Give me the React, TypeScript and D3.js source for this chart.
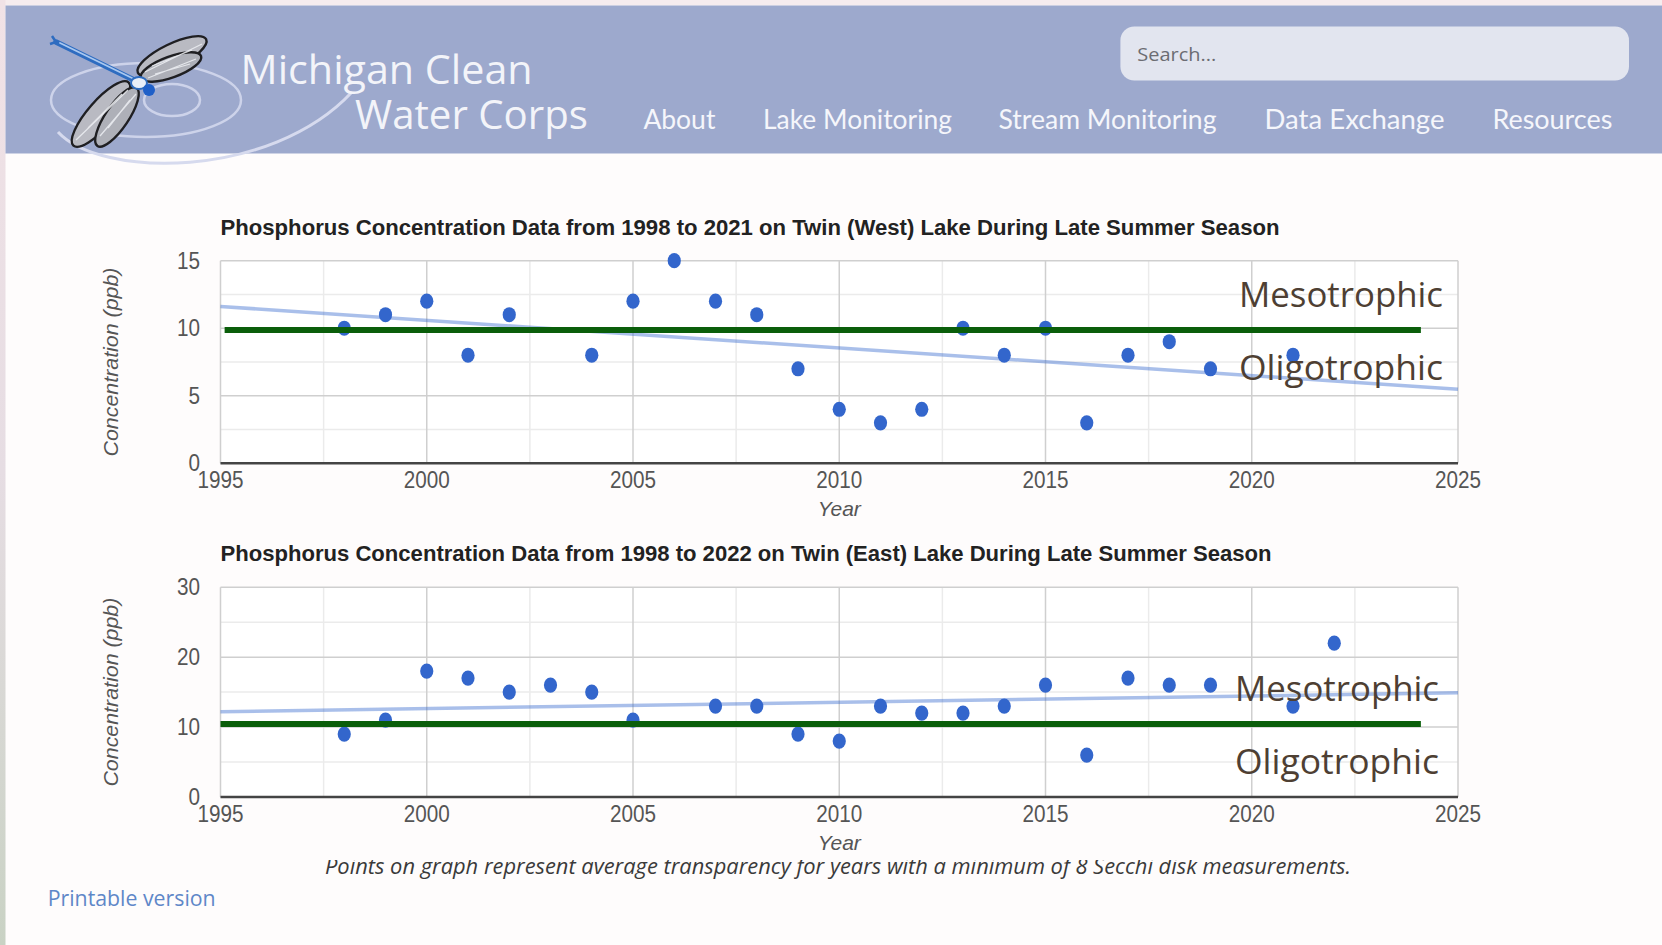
import React from 'react';
import * as d3 from 'd3';

// ---------- data ----------
const xDomain: [number, number] = [1995, 2025];
const xTickYears = [1995, 2000, 2005, 2010, 2015, 2020, 2025];

const westTitle = 'Phosphorus Concentration Data from 1998 to 2021 on Twin (West) Lake During Late Summer Season';
const westYears = [1998, 1999, 2000, 2001, 2002, 2004, 2005, 2006, 2007, 2008, 2009, 2010, 2011, 2012, 2013, 2014, 2015, 2016, 2017, 2018, 2019, 2021];
const westValues = [10, 11, 12, 8, 11, 8, 12, 15, 12, 11, 7, 4, 3, 4, 10, 8, 10, 3, 8, 9, 7, 8];
const westYTicks = [0, 5, 10, 15];
const westThreshold = 9.87;
const westThresholdSpan: [number, number] = [1995.1, 2024.1];

const eastTitle = 'Phosphorus Concentration Data from 1998 to 2022 on Twin (East) Lake During Late Summer Season';
const eastYears = [1998, 1999, 2000, 2001, 2002, 2003, 2004, 2005, 2007, 2008, 2009, 2010, 2011, 2012, 2013, 2014, 2015, 2016, 2017, 2018, 2019, 2021, 2022];
const eastValues = [9, 11, 18, 17, 15, 16, 15, 11, 13, 13, 9, 8, 13, 12, 12, 13, 16, 6, 17, 16, 16, 13, 22];
const eastYTicks = [0, 10, 20, 30];
const eastThreshold = 10.44;
const eastThresholdSpan: [number, number] = [1995.0, 2024.1];

const trophicLabels = ['Mesotrophic', 'Oligotrophic'];
const navItems = ['About', 'Lake Monitoring', 'Stream Monitoring', 'Data Exchange', 'Resources'];
const footnote = 'Points on graph represent average transparency for years with a minimum of 8 Secchi disk measurements.';

// ---------- layout ----------
const W = 1662;
const H = 945;
const PLOT_L = 220.5;
const PLOT_R = 1458;
const navX = [643.4, 763, 998.5, 1264.5, 1492.4];
const navW = [72, 189, 218, 180, 120];

function regression(xs: number[], ys: number[]) {
  const mx = d3.mean(xs) as number;
  const my = d3.mean(ys) as number;
  let sxy = 0, sxx = 0;
  xs.forEach((x, i) => { sxy += (x - mx) * (ys[i] - my); sxx += (x - mx) * (x - mx); });
  const slope = sxy / sxx;
  return (x: number) => my + slope * (x - mx);
}

type ChartProps = {
  title: string; titleW: number; years: number[]; values: number[]; yTicks: number[];
  threshold: number; thresholdSpan: [number, number];
  top: number; bottom: number; labelX: number; labelBase: number[];
};

const AX_FONT = "'Liberation Sans', Arial, sans-serif";

function Chart(p: ChartProps) {
  const x = d3.scaleLinear().domain(xDomain).range([PLOT_L, PLOT_R]);
  const yMax = p.yTicks[p.yTicks.length - 1];
  const y = d3.scaleLinear().domain([0, yMax]).range([p.bottom, p.top]);
  const step = p.yTicks[1] - p.yTicks[0];
  const minorY = p.yTicks.slice(0, -1).map(t => t + step / 2);
  const minorX = xTickYears.slice(0, -1).map(t => t + 2.5);
  const fit = regression(p.years, p.values);
  const line = d3.line<number>().x(d => x(d)).y(d => y(fit(d)));
  const midY = (p.top + p.bottom) / 2;
  return (
    <g>
      <text x={PLOT_L} y={p.top - 26} fontFamily={AX_FONT} fontWeight="bold"
        fontSize={22} fill="#222" textLength={p.titleW} lengthAdjust="spacingAndGlyphs">{p.title}</text>
      <rect x={PLOT_L} y={p.top} width={PLOT_R - PLOT_L} height={p.bottom - p.top} fill="#fff" />
      {minorX.map(t => <line key={'mx' + t} x1={x(t)} x2={x(t)} y1={p.top} y2={p.bottom} stroke="#ebebeb" strokeWidth={1.5} />)}
      {minorY.map(t => <line key={'my' + t} x1={PLOT_L} x2={PLOT_R} y1={y(t)} y2={y(t)} stroke="#ebebeb" strokeWidth={1.5} />)}
      {xTickYears.map(t => <line key={'gx' + t} x1={x(t)} x2={x(t)} y1={p.top} y2={p.bottom} stroke="#cfcfcf" strokeWidth={1.5} />)}
      {p.yTicks.map(t => <line key={'gy' + t} x1={PLOT_L} x2={PLOT_R} y1={y(t)} y2={y(t)} stroke="#cfcfcf" strokeWidth={1.5} />)}
      <line x1={PLOT_L} x2={PLOT_R} y1={y(0)} y2={y(0)} stroke="#444" strokeWidth={2.5} />
      <path d={line(xDomain) as string} stroke="#3366cc" strokeOpacity={0.42} strokeWidth={3.5} fill="none" />
      {p.years.map((yr, i) => (
        <ellipse key={yr} cx={x(yr)} cy={y(p.values[i])} rx={6.6} ry={7.6} fill="#3366cc" />
      ))}
      <line x1={x(p.thresholdSpan[0])} x2={x(p.thresholdSpan[1])} y1={y(p.threshold)} y2={y(p.threshold)}
        stroke="#0a5e0a" strokeWidth={6} />
      {p.yTicks.map(t => (
        <text key={'yl' + t} x={200} y={y(t) + 8} textAnchor="end" fontFamily={AX_FONT}
          fontSize={23} fill="#555" transform={`translate(200,0) scale(0.9,1) translate(-200,0)`}>{t}</text>
      ))}
      {xTickYears.map(t => (
        <text key={'xl' + t} x={x(t) / 0.9} y={p.bottom + 25} textAnchor="middle" fontFamily={AX_FONT}
          fontSize={23} fill="#555" transform="scale(0.9,1)">{t}</text>
      ))}
      <text x={(PLOT_L + PLOT_R) / 2} y={p.bottom + 53} textAnchor="middle" fontStyle="italic"
        fontFamily={AX_FONT} fontSize={21} fill="#555">Year</text>
      <text transform={`translate(118,${midY}) rotate(-90)`} textAnchor="middle" fontStyle="italic"
        fontFamily={AX_FONT} fontSize={20} fill="#555"
        textLength={189} lengthAdjust="spacingAndGlyphs">Concentration (ppb)</text>
      {trophicLabels.map((lab, i) => (
        <text key={lab} x={p.labelX} y={p.labelBase[i]} fontFamily="'Open Sans', sans-serif" fontSize={35}
          fill="#4e3f33" textLength={204} lengthAdjust="spacingAndGlyphs">{lab}</text>
      ))}
    </g>
  );
}

function Logo() {
  return (
    <g>
      <g fill="none" stroke="#cdd3ea" strokeWidth={2.5}>
        <ellipse cx={146} cy={100} rx={95} ry={37} />
        <ellipse cx={172} cy={100} rx={28} ry={16} />
        <path d="M 58 132 C 100 178, 270 180, 352 92" stroke="#d6daee" strokeWidth={3} />
      </g>
      <g stroke="#1f1f22" strokeWidth={2.4}>
        <ellipse cx={172} cy={56} rx={38} ry={12} transform="rotate(-26 172 56)" fill="#b9bac2" />
        <ellipse cx={171} cy={67} rx={32} ry={10.5} transform="rotate(-20 171 67)" fill="#aeb0b8" />
        <ellipse cx={101} cy={114} rx={42} ry={13} transform="rotate(131 101 114)" fill="#b9bac2" />
        <ellipse cx={117} cy={117} rx={35} ry={11.5} transform="rotate(124 117 117)" fill="#aeb0b8" />
      </g>
      <g stroke="#eef0f4" strokeWidth={1.3} opacity={0.85}>
        <path d="M 145 72 L 202 44 M 152 66 L 192 50 M 148 78 L 196 59 M 155 74 L 190 64" />
        <path d="M 128 90 L 76 140 M 122 94 L 88 128 M 136 94 L 100 136 M 130 100 L 108 128" />
      </g>
      <line x1={56} y1={42} x2={134} y2={80} stroke="#2e6cc0" strokeWidth={5.5} strokeLinecap="round" />
      <line x1={60} y1={43} x2={132} y2={78} stroke="#a9c8f0" strokeWidth={1.8} strokeLinecap="round" />
      <path d="M 56 42 L 52 36 M 56 42 L 50 44" stroke="#2e6cc0" strokeWidth={2.5} />
      <ellipse cx={139} cy={83} rx={8} ry={6} fill="#e8eef8" stroke="#2e6cc0" strokeWidth={2} />
      <circle cx={149} cy={90} r={6} fill="#1f5fc8" />
    </g>
  );
}

export default function App() {
  return (
    <svg width={W} height={H} viewBox={`0 0 ${W} ${H}`}
      style={{ position: 'absolute', left: 0, top: 0, display: 'block' }}>
      <defs>
        <linearGradient id="leftStrip" x1="0" y1="0" x2="0" y2="1">
          <stop offset="0" stopColor="#f1e2e6" />
          <stop offset="0.5" stopColor="#e6dde3" />
          <stop offset="1" stopColor="#c9d2c4" />
        </linearGradient>
        <clipPath id="footClip">
          <rect x={0} y={860} width={W} height={40} />
        </clipPath>
      </defs>
      <rect x={0} y={0} width={W} height={H} fill="#fefcfc" />
      <rect x={0} y={0} width={W} height={5.5} fill="#f6ecee" />
      <rect x={0} y={0} width={5.5} height={H} fill="url(#leftStrip)" />
      <rect x={5.5} y={5.5} width={W - 5.5} height={148} fill="#9da9cd" />
      <Logo />
      <text x={240.6} y={84} fontFamily="'Open Sans', sans-serif" fontSize={40} fill="#f3f4f9"
        textLength={292} lengthAdjust="spacingAndGlyphs">Michigan Clean</text>
      <text x={355} y={129} fontFamily="'Open Sans', sans-serif" fontSize={40} fill="#f3f4f9"
        textLength={233} lengthAdjust="spacingAndGlyphs">Water Corps</text>
      <rect x={1120.4} y={26.5} width={508.6} height={54} rx={14} fill="#e2e5ef" />
      <text x={1137.3} y={60.5} fontFamily="'Open Sans', sans-serif" fontSize={19} fill="#6b6c72"
        textLength={79} lengthAdjust="spacingAndGlyphs">Search...</text>
      {navItems.map((n, i) => (
        <text key={n} x={navX[i]} y={129} fontFamily="Lato, sans-serif" fontSize={27} fill="#f5f6fb"
          textLength={navW[i]} lengthAdjust="spacingAndGlyphs">{n}</text>
      ))}

      <Chart title={westTitle} titleW={1059} years={westYears} values={westValues} yTicks={westYTicks}
        threshold={westThreshold} thresholdSpan={westThresholdSpan} top={260.7} bottom={463.3}
        labelX={1239} labelBase={[307, 380]} />
      <Chart title={eastTitle} titleW={1051} years={eastYears} values={eastValues} yTicks={eastYTicks}
        threshold={eastThreshold} thresholdSpan={eastThresholdSpan} top={587.2} bottom={797}
        labelX={1235} labelBase={[701, 774]} />

      <text x={325} y={874} clipPath="url(#footClip)" fontFamily="'Open Sans', sans-serif" fontStyle="italic"
        fontSize={21} fill="#3a3a3a" textLength={1026} lengthAdjust="spacingAndGlyphs">{footnote}</text>
      <text x={47.7} y={906} fontFamily="'Open Sans', sans-serif" fontSize={21} fill="#5f87c8"
        textLength={168} lengthAdjust="spacingAndGlyphs">Printable version</text>
    </svg>
  );
}
